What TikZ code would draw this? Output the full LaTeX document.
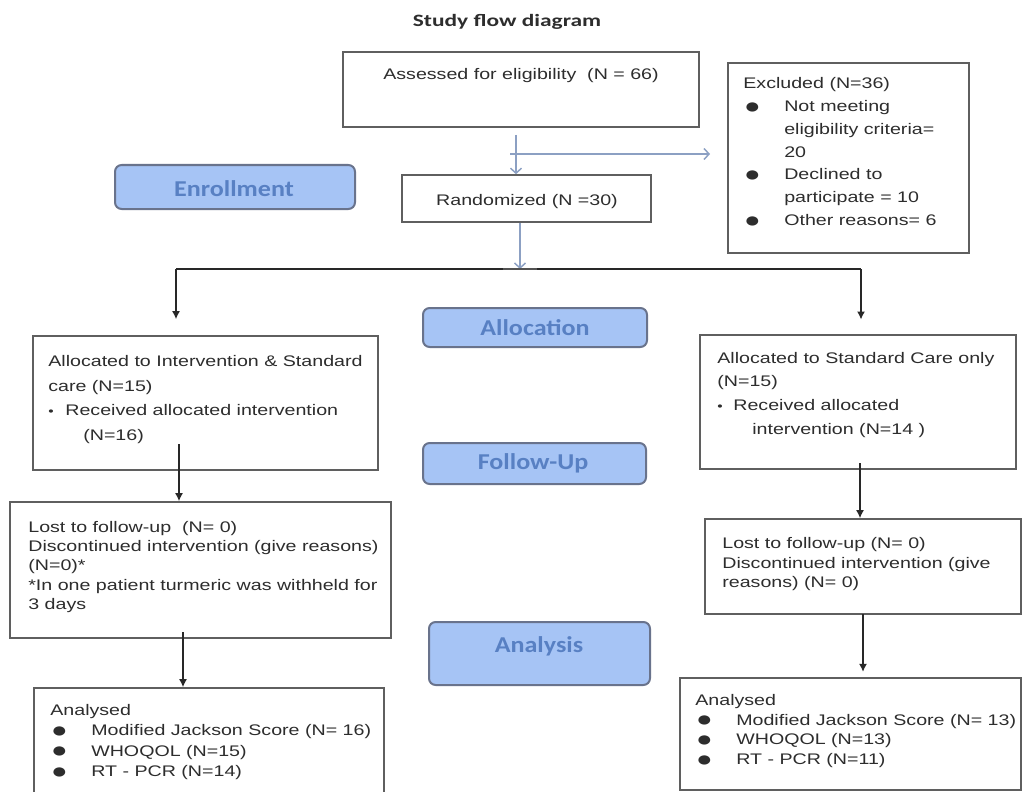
\documentclass[tikz,border=0pt]{standalone}
\usepackage{fontspec}
\setmainfont{Liberation Sans}
\newfontfamily\carl{Carlito}
\usetikzlibrary{fit,arrows.meta}
\newlength\upx \setlength\upx{0.75pt}
\definecolor{boxc}{RGB}{95,95,95}
\definecolor{connc}{RGB}{40,40,40}
\definecolor{bluec}{RGB}{140,160,195}
\definecolor{stagefill}{RGB}{166,196,245}
\definecolor{stagedraw}{RGB}{105,115,140}
\definecolor{stagetext}{RGB}{88,128,195}
\definecolor{textc}{RGB}{45,45,45}
\newcommand\bigbul{\makebox[24pt][l]{\hspace{0.5pt}\raisebox{-1.2pt}{\scalebox{1.4}{●}}}}
\newcommand\contind{\makebox[24pt]{}}
\newcommand\smallbul{{\fontsize{9}{0}\selectfont •}}
\begin{document}
\begin{tikzpicture}[x=0.75pt,y=-0.75pt,
  box/.style={draw=boxc, line width=1.2pt, inner sep=0pt},
  stage/.style={draw=stagedraw, fill=stagefill, rounded corners=5pt, line width=1.5pt, inner sep=0pt},
  stagetxt/.style={font=\carl\bfseries\fontsize{17}{20}\selectfont, text=stagetext, xscale=1.15, transform shape, inner sep=0pt, anchor=base},
  txt/.style={font=\fontsize{11.5}{14.5}\selectfont, text=textc, align=left, xscale=1.28, transform shape, inner sep=0pt, anchor=base west},
  conn/.style={draw=connc, line width=1.1pt},
  connarr/.style={conn, -{Latex[length=6pt,width=6pt]}},
  bluearr/.style={draw=bluec, line width=1.1pt, -{Straight Barb[length=3.75pt,width=8.25pt]}},
]
\useasboundingbox (0,0) rectangle (1022,792);
\fill[white] (0,0) rectangle (1022,792);

% title
\node[font=\carl\bfseries\fontsize{13}{15}\selectfont, xscale=1.35, transform shape, anchor=base, inner sep=0pt, text=textc] (title) at (507,27) {Study flow diagram};

% boxes
\node[box, fit={(343,52) (699,127)}] (assess) {};
\node[box, fit={(402,175) (651,222)}] (rand) {};
\node[box, fit={(728,63) (969,253)}] (excl) {};
\node[box, fit={(33,336) (378,470)}] (L1) {};
\node[box, fit={(700,335) (1016,469)}] (R1) {};
\node[box, fit={(10,502) (391,638)}] (L2) {};
\node[box, fit={(705,519) (1021,614)}] (R2) {};
\node[box, fit={(34,688) (384,800)}] (L3) {};
\node[box, fit={(680,678) (1021,790)}] (R3) {};

% stage labels
\node[stage, fit={(115,165) (355,209)}] (enroll) {};
\node[stage, fit={(423,308) (647,347)}] (alloc) {};
\node[stage, fit={(423,443) (646,484)}] (follow) {};
\node[stage, fit={(429,622) (650,685)}] (analysis) {};
\node[stagetxt] (enrollt) at (234,196) {Enrollment};
\node[stagetxt] (alloct) at (535,335) {Allocation};
\node[stagetxt] (followt) at (533,469) {Follow-Up};
\node[stagetxt] (analysist) at (539,652) {Analysis};

% texts (anchor = baseline of the last line)
\node[txt, anchor=base] (assesst) at (521,80) {Assessed for eligibility\ \ (N = 66)};
\node[txt, anchor=base] (randt) at (527,205) {Randomized (N =30)};
\node[txt, font=\fontsize{11.5}{17.1}\selectfont] (exclt) at (743,225.5) {Excluded (N=36)\\
\bigbul Not meeting\\
\contind eligibility criteria=\\
\contind 20\\
\bigbul Declined to\\
\contind participate = 10\\
\bigbul Other reasons= 6};
\node[txt, font=\fontsize{11.5}{18.3}\selectfont] (L1t) at (48,440) {Allocated to Intervention \& Standard\\
care (N=15)\\
\makebox[10pt][l]{\smallbul}Received allocated intervention\\
\makebox[20.5pt]{}(N=16)};
\node[txt, font=\fontsize{11.5}{17.7}\selectfont] (R1t) at (717,434) {Allocated to Standard Care only\\
(N=15)\\
\makebox[9.4pt][l]{\smallbul}Received allocated\\
\makebox[20.5pt]{}intervention (N=14 )};
\node[txt, font=\fontsize{11.5}{14.5}\selectfont] (L2t) at (28,609.5) {Lost to follow-up\ \ (N= 0)\\
Discontinued intervention (give reasons)\\
(N=0)*\\
*In one patient turmeric was withheld for\\
3 days};
\node[txt, font=\fontsize{11.5}{14.6}\selectfont] (R2t) at (722,587.5) {Lost to follow-up (N= 0)\\
Discontinued intervention (give\\
reasons) (N= 0)};
\node[txt, font=\fontsize{11.5}{15.2}\selectfont] (L3t) at (50,776.5) {Analysed\\
\bigbul Modified Jackson Score (N= 16)\\
\bigbul WHOQOL (N=15)\\
\bigbul RT - PCR (N=14)};
\node[txt, font=\fontsize{11.5}{14.8}\selectfont] (R3t) at (695,764.5) {Analysed\\
\bigbul Modified Jackson Score (N= 13)\\
\bigbul WHOQOL (N=13)\\
\bigbul RT - PCR (N=11)};

% connectors
\coordinate (c1) at (516,135);
\draw[bluearr] (c1) -- (c1 |- rand.north);
\coordinate (c2) at (510,154);
\coordinate (c2e) at (710,154);
\draw[bluearr] (c2) -- (c2e);
\coordinate (split) at (520,269);
\draw[bluearr] (rand.south -| split) -- (split);
\coordinate (sl) at (176,269);
\coordinate (sr) at (861,269);
\draw[conn] (sl) -- (sr);
\coordinate (tk1) at (503,269);
\coordinate (tk2) at (537,269);
\draw[draw=connc!80, line width=2.2pt] (tk1) -- (tk2);
\draw[connarr, shorten >=12pt] (sl) -- (sl |- L1.north);
\draw[connarr, shorten >=11pt] (sr) -- (sr |- R1.north);
\coordinate (a3) at (179,444);
\draw[connarr] (a3) -- (a3 |- L2.north);
\coordinate (a4) at (183,632);
\draw[connarr] (a4) -- (a4 |- L3.north);
\coordinate (a5) at (860,463);
\draw[connarr] (a5) -- (a5 |- R2.north);
\coordinate (a6) at (863,614);
\draw[connarr, shorten >=4pt] (a6) -- (a6 |- R3.north);
\end{tikzpicture}
\end{document}
